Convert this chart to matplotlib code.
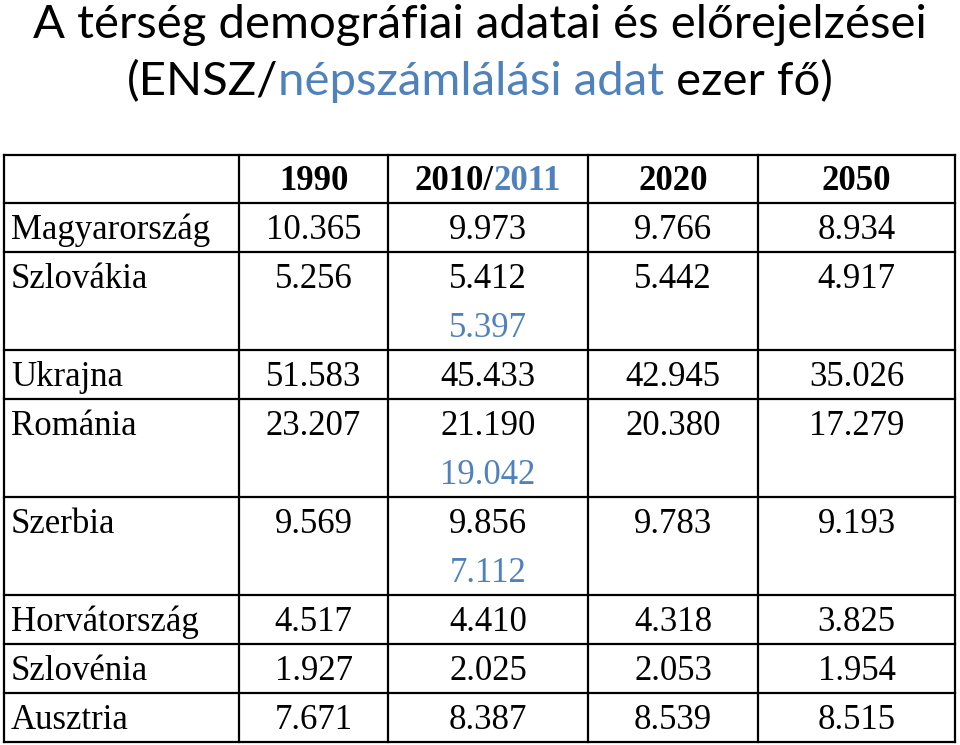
import matplotlib.pyplot as plt

countries = ['Magyarország', 'Szlovákia', 'Ukrajna', 'Románia', 'Szerbia',
             'Horvátország', 'Szlovénia', 'Ausztria']
v1990 = [10.365, 5.256, 51.583, 23.207, 9.569, 4.517, 1.927, 7.671]
v2010 = [9.973, 5.412, 45.433, 21.190, 9.856, 4.410, 2.025, 8.387]
v2011 = [None, 5.397, None, 19.042, 7.112, None, None, None]  # census, blue
v2020 = [9.766, 5.442, 42.945, 20.380, 9.783, 4.318, 2.053, 8.539]
v2050 = [8.934, 4.917, 35.026, 17.279, 9.193, 3.825, 1.954, 8.515]
years = ['1990', '2010/', '2020', '2050']

BLUE = '#4f81bd'
SERIF = 'Liberation Serif'
TITLE_FONT = ['Lato', 'DejaVu Sans']

fig = plt.figure(figsize=(9.6, 7.45), dpi=100)
ax = fig.add_axes([0, 0, 1, 1])
ax.set_xlim(0, 960)
ax.set_ylim(745, 0)
ax.axis('off')

# layout (pixels)
col_edges = [4, 239, 388, 588, 758, 955]
top = 155
head_h = 48
line_h = 49
fs = 25

# row heights
rows_top = [top + head_h]
for v in v2011:
    n = 2 if v is not None else 1
    rows_top.append(rows_top[-1] + n * line_h)
bottom = rows_top[-1]

# grid
lw = 1.6
for x in col_edges:
    ax.plot([x, x], [top, bottom], color='black', lw=lw, solid_capstyle='projecting')
for y in [top] + rows_top:
    ax.plot([col_edges[0], col_edges[-1]], [y, y], color='black', lw=lw,
            solid_capstyle='projecting')

centers = [(col_edges[i] + col_edges[i + 1]) / 2 for i in range(1, 5)]
fig.canvas.draw()
rend = fig.canvas.get_renderer()


def text_width(s, **kw):
    t = ax.text(0, 0, s, **kw)
    w = t.get_window_extent(rend).width
    t.remove()
    return w


# header
hy = top + head_h / 2 + 3
for i, yr in enumerate(years):
    if yr == '2010/':
        hk = dict(fontsize=fs, fontweight='bold', family=SERIF)
        w1 = text_width('2010/', **hk)
        w2 = text_width('2011', **hk)
        x0 = centers[i] - (w1 + w2) / 2
        ax.text(x0, hy, '2010/', ha='left', va='center', color='black', **hk)
        ax.text(x0 + w1, hy, '2011', ha='left', va='center', color=BLUE, **hk)
    else:
        ax.text(centers[i], hy, yr, fontsize=fs, fontweight='bold', family=SERIF,
                ha='center', va='center')

# body
for r, name in enumerate(countries):
    y = rows_top[r] + line_h / 2 + 3
    ax.text(11, y, name, fontsize=fs, family=SERIF, ha='left', va='center')
    for i, col in enumerate([v1990, v2010, v2020, v2050]):
        ax.text(centers[i], y, f'{col[r]:.3f}', fontsize=fs, family=SERIF,
                ha='center', va='center')
    if v2011[r] is not None:
        ax.text(centers[1], y + line_h, f'{v2011[r]:.3f}', fontsize=fs, family=SERIF,
                ha='center', va='center', color=BLUE)

# title
tfs = 34
ax.text(480, 25, 'A térség demográfiai adatai és előrejelzései', fontsize=tfs,
        family=TITLE_FONT, ha='center', va='center')
parts = [('(ENSZ/', 'black'), ('népszámlálási adat', BLUE), (' ezer fő)', 'black')]
widths = [text_width(p, fontsize=tfs, family=TITLE_FONT) for p, c in parts]
x = 480 - sum(widths) / 2
for (p, c), w in zip(parts, widths):
    ax.text(x, 82, p, fontsize=tfs, family=TITLE_FONT, color=c, ha='left', va='center')
    x += w

fig.savefig('out.png', dpi=100)
